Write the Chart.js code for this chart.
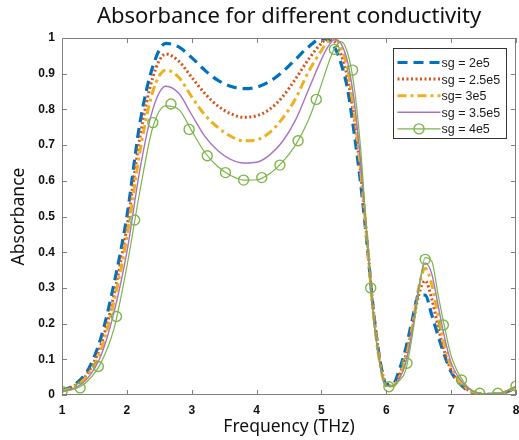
<!DOCTYPE html>
<html>
<head>
<meta charset="utf-8">
<script src="https://cdn.jsdelivr.net/npm/chart.js@4.4.1/dist/chart.umd.min.js"></script>
<style>
  body { margin: 0; background: #fff; }
  canvas { display: block; }
</style>
</head>
<body>
<canvas id="absChart" width="519" height="440"></canvas>
<script>
// frequency grid (THz) shared by the curves
const freq = [1.0, 1.2, 1.4, 1.6, 1.8, 2.0, 2.2, 2.4, 2.6, 2.8, 3.0, 3.2, 3.4, 3.6, 3.8, 4.0, 4.2, 4.4, 4.6, 4.8,
  5.0, 5.1, 5.2, 5.3, 5.4, 5.5, 5.6, 5.7, 5.8, 5.9, 6.0, 6.1, 6.2, 6.3, 6.4, 6.5, 6.6, 6.7, 6.8, 6.9, 7.0, 7.2, 7.4, 7.6, 7.8, 8.0];

const sg2e5 = [0.012, 0.03, 0.07, 0.16, 0.31, 0.50, 0.76, 0.92, 0.985, 0.975, 0.945, 0.91, 0.882, 0.865, 0.858, 0.862, 0.878, 0.905, 0.94, 0.975,
  0.998, 0.995, 0.975, 0.93, 0.86, 0.74, 0.60, 0.43, 0.24, 0.10, 0.03, 0.03, 0.07, 0.13, 0.21, 0.28, 0.28, 0.225, 0.165, 0.11, 0.065, 0.02, 0.004, 0.002, 0.006, 0.02];
const sg25e5 = [0.011, 0.027, 0.062, 0.14, 0.28, 0.47, 0.72, 0.89, 0.955, 0.935, 0.89, 0.845, 0.81, 0.788, 0.778, 0.782, 0.80, 0.835, 0.885, 0.94,
  0.985, 0.998, 0.99, 0.955, 0.89, 0.78, 0.63, 0.44, 0.24, 0.10, 0.03, 0.025, 0.055, 0.11, 0.19, 0.28, 0.32, 0.27, 0.19, 0.12, 0.07, 0.022, 0.005, 0.002, 0.006, 0.02];
const sg3e5 = [0.01, 0.024, 0.056, 0.125, 0.26, 0.44, 0.68, 0.85, 0.91, 0.89, 0.835, 0.785, 0.75, 0.725, 0.712, 0.715, 0.735, 0.775, 0.83, 0.905,
  0.965, 0.99, 0.998, 0.975, 0.915, 0.80, 0.64, 0.44, 0.23, 0.09, 0.025, 0.025, 0.05, 0.10, 0.19, 0.30, 0.355, 0.31, 0.22, 0.14, 0.08, 0.025, 0.005, 0.002, 0.006, 0.022];
const sg35e5 = [0.01, 0.02, 0.048, 0.11, 0.23, 0.40, 0.63, 0.80, 0.865, 0.845, 0.785, 0.725, 0.685, 0.66, 0.65, 0.652, 0.672, 0.71, 0.77, 0.855,
  0.94, 0.975, 0.995, 0.985, 0.935, 0.83, 0.66, 0.45, 0.23, 0.09, 0.025, 0.025, 0.045, 0.09, 0.18, 0.30, 0.37, 0.34, 0.25, 0.16, 0.09, 0.03, 0.006, 0.003, 0.007, 0.024];
const sg4e5 = [0.01, 0.017, 0.04, 0.09, 0.185, 0.36, 0.57, 0.75, 0.81, 0.80, 0.74, 0.68, 0.64, 0.615, 0.602, 0.603, 0.62, 0.653, 0.70, 0.77,
  0.87, 0.925, 0.97, 0.99, 0.96, 0.87, 0.70, 0.45, 0.22, 0.09, 0.025, 0.025, 0.04, 0.07, 0.165, 0.29, 0.385, 0.375, 0.28, 0.19, 0.11, 0.035, 0.007, 0.003, 0.007, 0.025];

// circle markers on the sg = 4e5 curve
const markerFreq = [1.00, 1.28, 1.56, 1.84, 2.12, 2.40, 2.68, 2.96, 3.24, 3.52, 3.80, 4.08, 4.36, 4.64, 4.92, 5.20, 5.48, 5.76, 6.04, 6.32, 6.60, 6.88, 7.16, 7.44, 7.72, 8.00];
const markerVals = [0.01, 0.02, 0.08, 0.22, 0.49, 0.763, 0.815, 0.744, 0.67, 0.623, 0.602, 0.609, 0.644, 0.712, 0.828, 0.968, 0.91, 0.30, 0.023, 0.089, 0.38, 0.196, 0.042, 0.005, 0.005, 0.025];

const legendLabels = ['sg = 2e5', 'sg = 2.5e5', 'sg= 3e5', 'sg = 3.5e5', 'sg = 4e5'];
const xTicks = [1, 2, 3, 4, 5, 6, 7, 8];
const yTicks = [0, 0.1, 0.2, 0.3, 0.4, 0.5, 0.6, 0.7, 0.8, 0.9, 1];

const pts = (xs, ys) => xs.map((v, i) => ({ x: v, y: ys[i] }));

const styles = [
  { color: '#0072BD', width: 3.2, dash: [10, 6] },
  { color: '#D95319', width: 3, dash: [2, 2.5] },
  { color: '#EDB120', width: 3, dash: [9, 4, 3, 4] },
  { color: '#a872c2', width: 1.4, dash: [] },
  { color: '#7db54a', width: 1.2, dash: [] }
];
const seriesVals = [sg2e5, sg25e5, sg3e5, sg35e5, sg4e5];

const datasets = seriesVals.map((vals, i) => ({
  label: legendLabels[i],
  data: pts(freq, vals),
  borderColor: styles[i].color,
  borderWidth: styles[i].width,
  borderDash: styles[i].dash,
  pointRadius: 0,
  fill: false,
  cubicInterpolationMode: 'monotone',
  order: 5 - i
}));
datasets.push({
  label: 'markers',
  data: pts(markerFreq, markerVals),
  showLine: false,
  pointRadius: 5,
  pointStyle: 'circle',
  pointBackgroundColor: 'rgba(0,0,0,0)',
  pointBorderColor: styles[4].color,
  pointBorderWidth: 1.4,
  order: 0
});

// MATLAB-like box, inward ticks and legend
const frame = {
  id: 'frame',
  afterDraw(chart) {
    const { ctx, chartArea: a, scales: { x, y } } = chart;
    ctx.save();
    ctx.strokeStyle = '#808080';
    ctx.lineWidth = 1;
    ctx.strokeRect(Math.round(a.left) + 0.5, Math.round(a.top) + 0.5, Math.round(a.width) - 1, Math.round(a.height) - 1);
    ctx.beginPath();
    x.ticks.forEach(t => {
      const px = Math.round(x.getPixelForValue(t.value)) + 0.5;
      ctx.moveTo(px, a.bottom); ctx.lineTo(px, a.bottom - 5);
      ctx.moveTo(px, a.top); ctx.lineTo(px, a.top + 5);
    });
    y.ticks.forEach(t => {
      const py = Math.round(y.getPixelForValue(t.value)) + 0.5;
      ctx.moveTo(a.left, py); ctx.lineTo(a.left + 5, py);
      ctx.moveTo(a.right, py); ctx.lineTo(a.right - 5, py);
    });
    ctx.stroke();

    // legend
    const bw = 113, bh = 90;
    const bx = Math.round(a.right - 123) + 0.5, by = Math.round(a.top + 10) + 0.5;
    ctx.fillStyle = '#fff';
    ctx.fillRect(bx, by, bw, bh);
    ctx.strokeStyle = '#333';
    ctx.strokeRect(bx, by, bw, bh);
    ctx.font = '12.5px "Liberation Sans", Arial, sans-serif';
    ctx.textBaseline = 'middle';
    legendLabels.forEach((lab, i) => {
      const ly = by + 14 + i * 16.6;
      const s = styles[i];
      ctx.strokeStyle = s.color;
      ctx.lineWidth = s.width;
      ctx.setLineDash(s.dash);
      ctx.beginPath();
      ctx.moveTo(bx + 4, ly); ctx.lineTo(bx + 47, ly);
      ctx.stroke();
      ctx.setLineDash([]);
      if (i === 4) {
        ctx.lineWidth = 1.4;
        ctx.beginPath();
        ctx.arc(bx + 25.5, ly, 5, 0, Math.PI * 2);
        ctx.stroke();
      }
      ctx.fillStyle = '#1a1a1a';
      ctx.fillText(lab, bx + 48, ly + 1);
    });
    ctx.restore();
  }
};

new Chart(document.getElementById('absChart'), {
  type: 'line',
  data: { datasets },
  options: {
    responsive: false,
    animation: false,
    layout: { autoPadding: false, padding: { left: 0, right: 3, top: 0, bottom: 0 } },
    plugins: {
      legend: { display: false },
      tooltip: { enabled: false },
      title: {
        display: true,
        fullSize: false,
        text: 'Absorbance for different conductivity',
        color: '#111',
        font: { family: '"Noto Sans", sans-serif', size: 22, weight: 'normal' },
        padding: { top: 4, bottom: 7.6 }
      }
    },
    scales: {
      x: {
        type: 'linear',
        min: 1,
        max: 8,
        afterBuildTicks: s => { s.ticks = xTicks.map(v => ({ value: v })); },
        ticks: {
          color: '#111',
          font: { family: '"Liberation Sans", Arial, sans-serif', size: 12, weight: 'bold' },
          padding: 8,
          maxRotation: 0
        },
        grid: { display: false, drawTicks: false },
        border: { display: false },
        title: {
          display: true,
          text: 'Frequency (THz)',
          color: '#111',
          font: { family: '"Noto Sans", sans-serif', size: 17.5 },
          padding: { top: 0, bottom: 2 }
        },
        afterFit: s => { s.height = 45; s.paddingRight = 0; s.paddingLeft = 0; }
      },
      y: {
        min: 0,
        max: 1,
        afterBuildTicks: s => { s.ticks = yTicks.map(v => ({ value: v })); },
        ticks: {
          color: '#111',
          font: { family: '"Liberation Sans", Arial, sans-serif', size: 12, weight: 'bold' },
          padding: 7,
          callback: v => String(Math.round(v * 10) / 10)
        },
        grid: { display: false, drawTicks: false },
        border: { display: false },
        title: {
          display: true,
          text: 'Absorbance',
          color: '#111',
          font: { family: '"Noto Sans", sans-serif', size: 17.5 },
          padding: { top: 9, bottom: 0 }
        },
        afterFit: s => { s.width = 62; s.paddingTop = 0; s.paddingBottom = 0; }
      }
    }
  },
  plugins: [frame]
});
</script>
</body>
</html>
